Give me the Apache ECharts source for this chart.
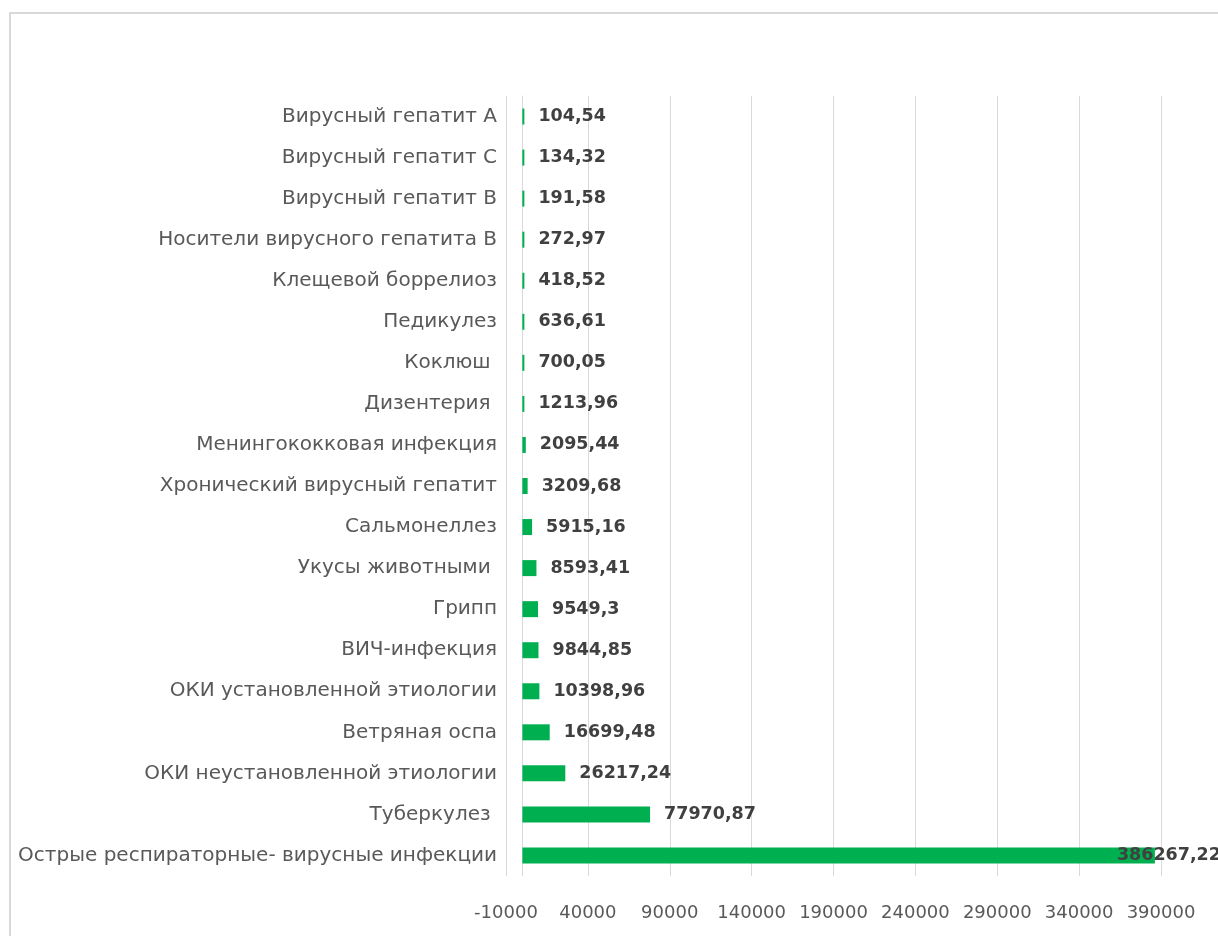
<!DOCTYPE html>
<html>
<head>
<meta charset="utf-8">
<script src="https://cdn.jsdelivr.net/npm/echarts@6/dist/echarts.min.js"></script>
<style>
  html, body { margin: 0; padding: 0; background: #ffffff; }
  #chart { width: 1218px; height: 936px; }
</style>
</head>
<body>
<div id="chart"></div>
<script>
// Categories listed top to bottom
const categories = [
  'Вирусный гепатит А',
  'Вирусный гепатит С',
  'Вирусный гепатит В',
  'Носители вирусного гепатита В',
  'Клещевой боррелиоз',
  'Педикулез',
  'Коклюш ',
  'Дизентерия ',
  'Менингококковая инфекция',
  'Хронический вирусный гепатит',
  'Сальмонеллез',
  'Укусы животными ',
  'Грипп',
  'ВИЧ-инфекция',
  'ОКИ установленной этиологии',
  'Ветряная оспа',
  'ОКИ неустановленной этиологии',
  'Туберкулез ',
  'Острые респираторные- вирусные инфекции'
];
const values = [
  104.54, 134.32, 191.58, 272.97, 418.52, 636.61, 700.05, 1213.96, 2095.44,
  3209.68, 5915.16, 8593.41, 9549.3, 9844.85, 10398.96, 16699.48, 26217.24,
  77970.87, 386267.22
];
const axisMin = -10000;
const axisMax = 390000;
const axisStep = 50000;

const fontFamily = '"DejaVu Sans", "Open Sans", sans-serif';
const fmt = v => String(v).replace('.', ',');

const seriesData = values.map((v, i) => {
  const item = { value: v };
  if (i === values.length - 1) {
    // the longest bar carries its label over its own end
    item.label = { offset: [-52, 0] };
  }
  return item;
});

const chart = echarts.init(document.getElementById('chart'));
chart.setOption({
  backgroundColor: '#ffffff',
  animation: false,
  graphic: [{
    type: 'rect',
    shape: { x: 10, y: 13, width: 1300, height: 1000 },
    style: { fill: 'none', stroke: '#d9d9d9', lineWidth: 2 },
    z: -1
  }],
  grid: { left: 506, right: 57, top: 96, bottom: 60, containLabel: false },
  xAxis: {
    type: 'value',
    min: axisMin,
    max: axisMax,
    interval: axisStep,
    axisLine: { show: false },
    axisTick: { show: false },
    splitLine: { show: true, lineStyle: { color: '#d9d9d9', width: 1 } },
    axisLabel: {
      color: '#595959',
      fontSize: 18,
      fontFamily: fontFamily,
      margin: 28,
      formatter: v => String(v)
    }
  },
  yAxis: {
    type: 'category',
    data: categories,
    inverse: true,
    axisLine: { show: true, lineStyle: { color: '#d9d9d9', width: 1 } },
    axisTick: { show: false },
    axisLabel: {
      color: '#595959',
      fontSize: 20,
      fontFamily: fontFamily,
      margin: 9
    }
  },
  series: [{
    type: 'bar',
    data: seriesData,
    barWidth: 16,
    barMinHeight: 2,
    itemStyle: { color: '#00b050' },
    label: {
      show: true,
      position: 'right',
      distance: 14,
      color: '#404040',
      fontSize: 17.5,
      fontWeight: 'bold',
      fontFamily: fontFamily,
      formatter: p => fmt(p.value)
    }
  }]
});
</script>
</body>
</html>
